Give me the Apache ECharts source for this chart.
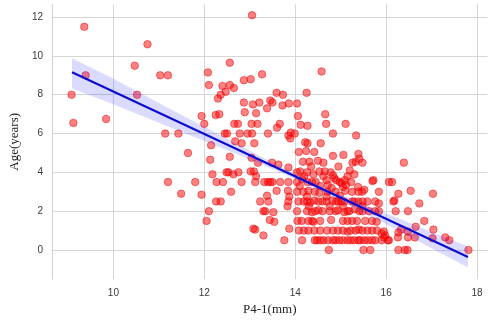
<!DOCTYPE html>
<html><head><meta charset="utf-8">
<script src="https://cdn.jsdelivr.net/npm/echarts@6/dist/echarts.min.js"></script>
<style>html,body{margin:0;padding:0;background:#fff}#c{width:495px;height:321px}</style>
</head><body><div id="c"></div>
<script>
// scatter points [P4-1 (mm), Age (years)]
const points = [
[9.08,8.0],[9.12,6.55],[9.36,11.5],[9.39,9.0],[9.84,6.75],[10.47,9.5],[10.52,8.0],[10.75,10.6],[11.03,9.0],[11.2,9.0],
[11.14,6.0],[11.43,6.0],[11.64,5.0],[11.2,3.5],[11.49,2.9],[11.8,3.5],[11.94,2.85],
[13.05,12.1],[12.56,9.65],[12.08,9.15],[12.1,8.5],[12.4,8.45],[12.56,8.5],[12.65,8.35],[12.47,8.15],[12.36,8.0],[12.3,7.8],
[12.87,8.75],[13.02,8.8],[13.27,9.05],[11.94,6.9],[12.0,6.5],[12.25,6.95],[12.33,7.0],[12.87,7.6],[12.89,7.1],[13.07,7.5],
[13.21,7.6],[12.66,6.5],[12.74,6.5],[13.04,6.5],[13.17,6.5],[12.45,6.0],[12.5,6.0],[12.78,6.0],[12.95,6.0],[13.05,6.0],
[13.4,6.0],[12.15,5.4],[12.68,5.6],[12.82,5.5],[13.1,5.5],[12.56,4.8],[12.13,4.65],
[13.59,8.1],[13.73,8.0],[13.45,7.7],[13.5,7.6],[13.38,7.3],[13.72,7.45],[13.86,7.55],[14.04,7.55],[13.14,7.05],[13.66,6.5],
[13.6,6.3],[13.85,5.9],[13.9,6.05],[13.89,5.75],
[14.58,9.2],[14.25,8.1],[14.06,6.9],[14.66,7.0],[14.12,6.45],[14.27,6.4],[14.68,6.5],[15.11,6.5],[13.99,6.0],[14.83,6.0],
[15.34,5.9],[14.22,5.55],[14.27,5.5],[14.56,5.5],[14.08,5.05],[14.24,5.1],[14.42,5.05],[14.83,4.85],[15.06,4.9],[15.39,4.95],
[13.04,4.75],[13.18,4.5],[13.49,4.5],[13.63,4.4],[13.85,4.25],
[12.18,3.9],[12.27,3.5],[12.41,3.5],[12.49,4.0],[12.53,4.0],[12.64,3.9],[12.75,4.0],[12.82,3.5],[13.02,4.05],[13.09,4.05],
[13.14,3.8],[13.12,3.5],[13.32,3.5],[13.4,3.5],[13.45,3.5],[13.5,3.5],[13.67,3.5],[13.85,3.5],[12.59,3.0],[13.38,2.8],
[13.59,3.05],[13.84,3.05],[13.87,2.75],[13.85,2.5],[12.26,2.5],[12.36,2.5],[13.23,2.5],[13.41,2.5],[13.83,2.25],[12.1,2.0],
[12.05,1.5],[13.3,2.0],[13.34,2.0],[13.52,1.95],[13.44,1.55],[13.54,1.45],[13.08,1.1],[13.12,1.05],[13.87,1.1],[13.3,0.75],[13.76,0.5],
[15.26,4.5],[15.33,4.55],[15.48,4.5],[15.41,4.7],[14.17,4.55],[14.31,4.55],[14.62,4.5],
[14.04,4.0],[14.11,4.05],[14.26,4.0],[14.4,3.9],[14.53,4.05],[14.65,4.05],[14.78,4.0],
[14.15,3.65],[14.27,3.5],[14.37,3.5],[14.83,3.85],[14.86,3.7],[14.62,3.8],[14.69,3.6],[14.72,3.35],[14.98,3.5],[15.02,3.45],
[15.09,3.6],[15.12,3.35],[15.05,3.25],[15.23,3.5],[15.38,3.25],[15.47,3.0],[15.52,3.1],[15.7,3.55],[16.06,3.5],[15.84,3.0],
[14.04,3.5],[14.1,3.3],
[14.2,3.8],[14.45,3.5],[14.55,3.3],[14.8,3.2],[14.9,3.6],[15.15,3.8],[15.3,3.9],[14.35,4.3],[14.5,4.6],[14.95,4.3],[15.2,4.1],
[14.04,3.0],[14.18,3.0],[14.29,3.05],[14.43,3.0],[14.53,2.95],[14.71,3.0],[14.89,3.0],[15.1,3.05],[15.25,3.0],[15.39,3.0],
[14.26,2.75],[14.69,2.75],[14.98,2.8],
[14.07,2.5],[14.26,2.5],[14.33,2.45],[14.42,2.55],[14.51,2.5],[14.6,2.5],[14.69,2.5],[14.82,2.55],[14.94,2.5],[15.08,2.5],
[15.25,2.5],[15.39,2.5],[15.59,2.5],[15.76,2.5],[16.16,2.5],
[14.19,2.5],[14.9,2.5],[15.01,2.5],[15.3,2.5],[15.48,2.5],
[14.3,2.25],[14.76,2.25],[15.05,2.25],[15.48,2.25],
[14.04,2.0],[14.26,2.0],[14.37,1.95],[14.51,2.05],[14.6,2.0],[14.76,2.0],[14.89,2.0],[15.08,1.95],[15.15,2.0],[15.31,2.1],
[15.48,2.0],[15.62,2.0],[15.76,2.0],
[14.44,2.0],[14.94,2.05],[15.19,2.0],[15.41,2.0],[15.84,2.0],
[14.05,1.5],[14.14,1.5],[14.37,1.5],[14.55,1.5],[14.79,1.55],[15.05,1.5],[15.15,1.5],[15.36,1.5],[15.54,1.5],[15.79,1.45],
[14.29,1.5],[14.4,1.45],[15.69,1.5],[15.25,1.5],
[14.19,1.0],[14.29,1.0],[14.55,1.0],[14.83,1.0],[14.94,1.0],[15.05,1.0],[15.15,0.95],[15.22,1.0],[15.33,1.0],[15.48,1.0],
[15.59,1.0],[15.69,1.0],[15.9,0.85],[15.98,0.75],
[14.08,1.0],[14.42,1.0],[14.7,1.0],[15.4,1.05],[15.8,1.0],
[14.15,0.5],[14.43,0.5],[14.48,0.5],[14.62,0.5],[14.72,0.5],[14.83,0.5],[14.89,0.5],[15.05,0.5],[15.15,0.5],[15.22,0.5],
[15.39,0.5],[15.43,0.5],[15.69,0.5],[15.76,0.5],[15.9,0.5],[16.04,0.5],
[14.55,0.5],[14.97,0.5],[15.3,0.5],[15.52,0.5],[15.6,0.5],
[14.74,0.0],[15.5,0.0],[15.65,0.0],
[16.39,4.5],[16.13,3.5],[16.27,2.9],[16.18,2.55],[16.54,3.05],[16.73,2.4],[17.03,2.9],[16.21,2.0],[16.48,2.0],[16.84,1.5],
[16.65,1.2],[16.27,0.9],[16.33,1.05],[16.48,0.95],[17.04,1.05],[16.26,0.65],[16.48,0.65],[16.63,0.65],[17.02,0.6],[17.3,0.65],
[17.39,0.5],[16.27,0.0],[16.41,0.0],[16.47,0.0],[17.81,0.0],
[15.72,3.6],[15.84,2.4],[15.95,0.95],[16.06,0.5],[15.95,0.65]
];
// regression line endpoints
const fitX = [9.09, 17.8];
const fitY = [9.16, -0.36];
// confidence band
const bandX  = [9.09, 10, 11, 12, 13, 14, 15, 16, 17, 17.8];
const bandLo = [8.32, 7.51, 6.56, 5.62, 4.66, 3.66, 2.54, 1.33, 0.09, -0.90];
const bandHi = [9.88, 8.83, 7.58, 6.35, 5.12, 3.92, 2.86, 1.89, 0.93, 0.18];
const xName = 'P4-1(mm)';
const yName = 'Age(years)';

const chart = echarts.init(document.getElementById('c'), null, {renderer: 'canvas'});
const gridColor = '#d6d6d6';
chart.setOption({
  animation: false,
  backgroundColor: '#fff',
  grid: {left: 43, right: 7.5, top: 4.5, bottom: 41.7},
  xAxis: {
    type: 'value', min: 8.65, max: 18.23, splitNumber: 5,
    name: xName, nameLocation: 'middle', nameGap: 21,
    nameTextStyle: {fontFamily: 'Liberation Serif', fontSize: 13, color: '#222'},
    axisLine: {show: true, lineStyle: {color: gridColor, width: 1.2}},
    axisTick: {show: false},
    axisLabel: {showMinLabel: false, showMaxLabel: false, margin: 9, fontFamily: 'Liberation Sans', fontSize: 10, color: '#3a3a3a'},
    splitLine: {show: true, showMinLine: false, showMaxLine: false, lineStyle: {color: gridColor, width: 1}}
  },
  yAxis: {
    type: 'value', min: -1.5, max: 12.65, splitNumber: 7,
    name: yName, nameLocation: 'middle', nameGap: 23,
    nameTextStyle: {fontFamily: 'Liberation Serif', fontSize: 13, color: '#222'},
    axisLine: {show: true, lineStyle: {color: gridColor, width: 1.2}},
    axisTick: {show: false},
    axisLabel: {showMinLabel: false, showMaxLabel: false, margin: 9, fontFamily: 'Liberation Sans', fontSize: 10, color: '#3a3a3a'},
    splitLine: {show: true, showMinLine: false, showMaxLine: false, lineStyle: {color: gridColor, width: 1}}
  },
  series: [
    {
      type: 'scatter', data: points, symbolSize: 7.5, z: 2,
      itemStyle: {color: 'rgba(255,0,0,0.62)', borderColor: 'rgba(225,0,0,0.75)', borderWidth: 0.8}
    },
    {
      type: 'custom', z: 3, data: [[bandX[0], bandLo[0]]],
      renderItem: function (params, api) {
        const pts = [];
        for (let i = 0; i < bandX.length; i++) pts.push(api.coord([bandX[i], bandHi[i]]));
        for (let i = bandX.length - 1; i >= 0; i--) pts.push(api.coord([bandX[i], bandLo[i]]));
        return {type: 'polygon', shape: {points: pts}, style: {fill: 'rgba(40,40,255,0.17)', stroke: 'none'}};
      },
      silent: true
    },
    {
      type: 'line', z: 4, showSymbol: false, silent: true,
      data: fitX.map((x, i) => [x, fitY[i]]),
      lineStyle: {color: '#0a0ad0', width: 2}
    }
  ]
});
</script>
</body></html>
